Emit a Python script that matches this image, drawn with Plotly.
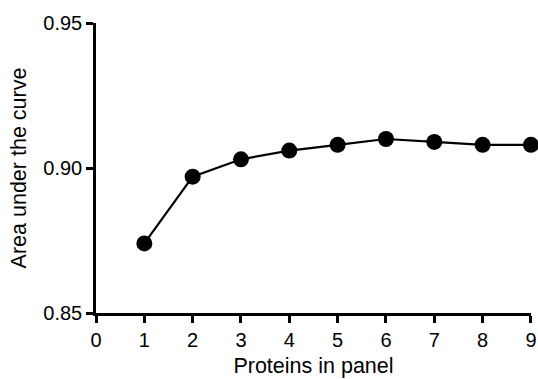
import plotly.graph_objects as go

proteins = [1, 2, 3, 4, 5, 6, 7, 8, 9]
auc = [0.874, 0.897, 0.903, 0.906, 0.908, 0.910, 0.909, 0.908, 0.908]
x_ticks = [0, 1, 2, 3, 4, 5, 6, 7, 8, 9]
y_ticks = [0.85, 0.90, 0.95]

fig = go.Figure(go.Scatter(
    x=proteins, y=auc, mode="lines+markers",
    line=dict(color="black", width=2.2),
    marker=dict(color="black", size=16),
    cliponaxis=False, showlegend=False,
))

font = dict(family="Liberation Sans, Arial, sans-serif", color="black")
fig.update_layout(
    width=538, height=379,
    margin=dict(l=96, r=7, t=23, b=66),
    plot_bgcolor="white", paper_bgcolor="white",
    font=dict(**font, size=20),
)
fig.update_xaxes(
    range=[0, 9.001], tickvals=x_ticks, ticks="outside", ticklen=7, tickwidth=2.5,
    tickcolor="black", showline=True, linecolor="black", linewidth=2.5,
    showgrid=False, zeroline=False, tickfont=dict(size=20), automargin=False,
    title=dict(text="Proteins in panel", font=dict(size=21.5), standoff=9),
)
fig.update_yaxes(
    range=[0.85, 0.95], tickvals=y_ticks, tickformat=".2f", ticks="outside",
    ticklen=7, tickwidth=2.5, tickcolor="black", showline=True, linecolor="black",
    linewidth=2.5, showgrid=False, zeroline=False, tickfont=dict(size=20),
    automargin=False,
    title=dict(text="Area under the curve", font=dict(size=21.5), standoff=11),
)
fig.write_html(
    "out.html",
    config={"displayModeBar": False},
    post_script="document.body.style.margin='0';document.body.style.overflow='hidden';",
)
